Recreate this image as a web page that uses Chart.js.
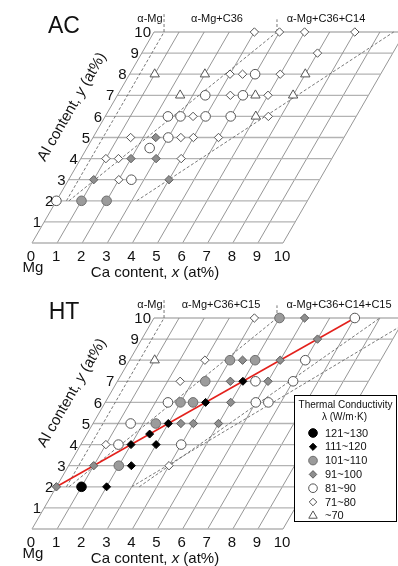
<!DOCTYPE html>
<html><head><meta charset="utf-8">
<script src="https://cdn.jsdelivr.net/npm/chart.js@4.4.1/dist/chart.umd.min.js"></script>
<style>
html,body{margin:0;padding:0;background:#fff;width:398px;height:566px;overflow:hidden}
canvas{position:absolute;left:0}
#c1{top:0}
#c2{top:286px}
</style></head><body>
<canvas id="c1" width="398" height="286"></canvas>
<canvas id="c2" width="398" height="280"></canvas>
<script>
// ---------- data (Ca content x, Al content y in at%) ----------
const xTickLabels = ['0','1','2','3','4','5','6','7','8','9','10'];
const yTickLabels = ['1','2','3','4','5','6','7','8','9','10'];

// AC (as-cast)
const acOpenCircle  = [[0,2],[2.5,3],[2.5,4.5],[3,5],[2.5,6],[3,6],[4,6],[5,6],[3.5,7],[5,7],[5,8]];
const acGrayCircle  = [[1,2],[2,2]];
const acGrayDiamond = [[1,3],[4,3],[2,4],[3,4],[2.5,5]];
const acOpenDiamond = [[2,3],[1,4],[1.5,4],[4,4],[1.5,5],[3.5,5],[4,5],[5,5],[3.5,6],[6.5,6],[4.5,7],[6,7],[4,8],[4.5,8],[6,8],[7,9],[4,10],[5,10],[6,10],[8,10]];
const acTriangle    = [[6,6],[2.5,7],[5.5,7],[7,7],[1,8],[3,8],[7,8]];
const acBoundaries  = [ [[0.4,2],[0.4,10]], [[0.5,2],[4.9,10]], [[3.2,2],[9.55,10]] ];
const acPhaseLabels = ['α-Mg','α-Mg+C36','α-Mg+C36+C14'];

// HT (heat treated)
const htBlackCircle = [[1,2]];
const htBlackDiamond= [[2,2],[2.5,3],[2,4],[3,4],[2.5,4.5],[3,5],[4,6],[5,7]];
const htGrayCircle  = [[2,3],[2.5,5],[3,6],[3.5,6],[3.5,7],[4,8],[5,8],[5,10]];
const htGrayDiamond = [[0,2],[1,3],[3.5,5],[4,5],[5,5],[5,6],[4.5,7],[6,7],[4.5,8],[6,8],[7,9],[6,10]];
const htOpenCircle  = [[1.5,4],[4,4],[1.5,5],[2.5,6],[6,6],[6.5,6],[5.5,7],[7,7],[7,8],[8,10]];
const htOpenDiamond = [[4,3],[1,4],[2.5,7],[3,8],[4,10]];
const htTriangle    = [[1,8]];
const htTrend       = [[0,2],[8,10]];
const htBoundaries  = [ [[0.4,2],[0.4,10]], [[0.5,2],[4.9,10]], [[3.3,2],[9.0,10]], [[3.0,2],[10,9.6]] ];
const htPhaseLabels = ['α-Mg','α-Mg+C36+C15','α-Mg+C36+C14+C15'];

const legendLabels = ['121~130','111~120','101~110','91~100','81~90','71~80','~70'];

// ---------- styles ----------
const FONT = '"Liberation Sans", Arial, Helvetica, sans-serif';
const S = {
  blackCircle:  {style:'circle',  r:4.8, fill:'#000000', stroke:'#000000'},
  blackDiamond: {style:'rectRot', r:4.0, fill:'#000000', stroke:'#000000'},
  grayCircle:   {style:'circle',  r:4.8, fill:'#9b9b9b', stroke:'#6e6e6e'},
  grayDiamond:  {style:'rectRot', r:4.2, fill:'#8e8e8e', stroke:'#5e5e5e'},
  openCircle:   {style:'circle',  r:4.8, fill:'#ffffff', stroke:'#555555'},
  openDiamond:  {style:'rectRot', r:4.2, fill:'#ffffff', stroke:'#555555'},
  triangle:     {style:'triangle',r:5.4, fill:'#ffffff', stroke:'#555555'}
};
const legendOrder = ['blackCircle','blackDiamond','grayCircle','grayDiamond','openCircle','openDiamond','triangle'];

// oblique axes: screen-x = x + K*y
const K = 12.2/25.1;
const UX = 25.1, UY = 21.1, X0 = 32, Y0 = 243;
const sk = p => ({x: p[0] + K*p[1], y: p[1]});

function drawSym(ctx, s, x, y) {
  ctx.save();
  ctx.fillStyle = s.fill; ctx.strokeStyle = s.stroke; ctx.lineWidth = 1;
  ctx.beginPath();
  const r = s.r;
  if (s.style === 'circle') ctx.arc(x, y, r, 0, Math.PI*2);
  else if (s.style === 'rectRot') { ctx.moveTo(x-r,y); ctx.lineTo(x,y-r); ctx.lineTo(x+r,y); ctx.lineTo(x,y+r); ctx.closePath(); }
  else { for (let i=0;i<3;i++){ const a=i*2*Math.PI/3; const px=x+Math.sin(a)*r, py=y-Math.cos(a)*r; i?ctx.lineTo(px,py):ctx.moveTo(px,py);} ctx.closePath(); }
  ctx.fill(); ctx.stroke();
  ctx.restore();
}

function makePanel(id, H, title, series, boundaries, phaseLabels, phaseX, trend, withLegend) {
  const datasets = [];
  series.forEach(([key, pts]) => {
    const s = S[key];
    datasets.push({type:'scatter', data: pts.map(sk), pointStyle: s.style, pointRadius: s.r, pointHoverRadius: s.r,
      backgroundColor: s.fill, borderColor: s.stroke, borderWidth: 1, order: 0});
  });
  if (trend) datasets.push({type:'line', data: trend.map(sk), borderColor:'#e3211c', borderWidth:1.6, pointRadius:0, order:1});
  boundaries.forEach(b => {
    datasets.push({type:'line', data: b.map(sk), borderColor:'#6a6a6a', borderWidth:0.9, borderDash:[3,2], pointRadius:0, order:2});
  });
  // vertical tick markers above the grid at the top end of the first two boundaries
  boundaries.slice(0,2).forEach((b, i) => {
    const top = sk(b[1]);
    datasets.push({type:'line', data:[{x:top.x,y:10},{x:top.x,y: i === 0 ? 10.85 : 10.6}], borderColor:'#6a6a6a', borderWidth:0.9, borderDash:[3,2], pointRadius:0, order:2});
  });
  // grid
  for (let i = 0; i <= 10; i++) {
    datasets.push({type:'line', data:[sk([0,i]), sk([10,i])], borderColor:'#b3b3b3', borderWidth:1.3, pointRadius:0, order:3});
    datasets.push({type:'line', data:[sk([i,0]), sk([i,10])], borderColor:'#8a8a8a', borderWidth:0.9, pointRadius:0, order:3});
  }

  const xmin = -X0/UX, xmax = xmin + 398/UX;
  const ymax = Y0/UY, ymin = ymax - H/UY;

  const textPlugin = {
    id: 'txt',
    afterDraw(chart) {
      const ctx = chart.ctx, xs = chart.scales.x, ys = chart.scales.y;
      const P = (x, y) => { const q = sk([x,y]); return [xs.getPixelForValue(q.x), ys.getPixelForValue(q.y)]; };
      ctx.save();
      ctx.fillStyle = '#111';
      ctx.font = '23px ' + FONT; ctx.textAlign = 'center'; ctx.textBaseline = 'middle';
      ctx.fillText(title, 64, 27);
      ctx.font = '11px ' + FONT;
      phaseLabels.forEach((t, i) => ctx.fillText(t, phaseX[i], 18.5));
      ctx.font = '15px ' + FONT; ctx.textAlign = 'right';
      yTickLabels.forEach(t => { const [px, py] = P(0, +t); ctx.fillText(t, px - 3, py + 1); });
      ctx.textAlign = 'center';
      xTickLabels.forEach(t => { const [px, py] = P(+t, 0); ctx.fillText(t, px - 1, py + 14); });
      ctx.fillText('Mg', 33, 268);
      const parts = [['Ca content, ', ''], ['x', 'italic '], [' (at%)', '']];
      let w = 0; parts.forEach(p => { ctx.font = p[1] + '15px ' + FONT; w += ctx.measureText(p[0]).width; });
      let cx = 155 - w/2; ctx.textAlign = 'left';
      parts.forEach(p => { ctx.font = p[1] + '15px ' + FONT; ctx.fillText(p[0], cx, 273); cx += ctx.measureText(p[0]).width; });
      const yparts = [['Al content, ', ''], ['y', 'italic '], [' (at%)', '']];
      ctx.save();
      ctx.translate(72, 107); ctx.rotate(-60 * Math.PI/180);
      w = 0; yparts.forEach(p => { ctx.font = p[1] + '15px ' + FONT; w += ctx.measureText(p[0]).width; });
      cx = -w/2;
      yparts.forEach(p => { ctx.font = p[1] + '15px ' + FONT; ctx.fillText(p[0], cx, 0); cx += ctx.measureText(p[0]).width; });
      ctx.restore();
      if (withLegend) {
        const L = 294, T = 109, R = 397, B = 236;
        ctx.fillStyle = '#fff'; ctx.fillRect(L, T, R-L, B-T);
        ctx.strokeStyle = '#000'; ctx.lineWidth = 1; ctx.strokeRect(L+0.5, T+0.5, R-L-1, B-T-1);
        ctx.fillStyle = '#111'; ctx.textAlign = 'center'; ctx.textBaseline = 'middle';
        ctx.font = '10px ' + FONT;
        ctx.fillText('Thermal Conductivity', (L+R)/2, T + 10);
        ctx.fillText('λ (W/m·K)', (L+R)/2 - 1, T + 22);
        ctx.font = '11px ' + FONT; ctx.textAlign = 'left';
        legendOrder.forEach((k, i) => {
          const y = T + 38 + i*13.8;
          const s = Object.assign({}, S[k], {r: S[k].r * 0.9});
          drawSym(ctx, s, 313, y);
          ctx.fillStyle = '#111';
          ctx.fillText(legendLabels[i], 325, y + 0.5);
        });
      }
      ctx.restore();
    }
  };

  return new Chart(document.getElementById(id), {
    data: { datasets },
    options: {
      responsive: false, animation: false, devicePixelRatio: 1,
      layout: { padding: 0, autoPadding: false },
      events: [],
      scales: {
        x: { type:'linear', min: xmin, max: xmax, display: false },
        y: { type:'linear', min: ymin, max: ymax, display: false }
      },
      plugins: { legend: { display: false }, tooltip: { enabled: false } }
    },
    plugins: [textPlugin]
  });
}

makePanel('c1', 286, 'AC',
  [['openCircle', acOpenCircle], ['grayCircle', acGrayCircle], ['grayDiamond', acGrayDiamond], ['openDiamond', acOpenDiamond], ['triangle', acTriangle]],
  acBoundaries, acPhaseLabels, [150, 217, 326], null, false);

makePanel('c2', 280, 'HT',
  [['blackCircle', htBlackCircle], ['blackDiamond', htBlackDiamond], ['grayCircle', htGrayCircle], ['grayDiamond', htGrayDiamond], ['openCircle', htOpenCircle], ['openDiamond', htOpenDiamond], ['triangle', htTriangle]],
  htBoundaries, htPhaseLabels, [150, 221, 339], htTrend, true);
</script>
</body></html>
